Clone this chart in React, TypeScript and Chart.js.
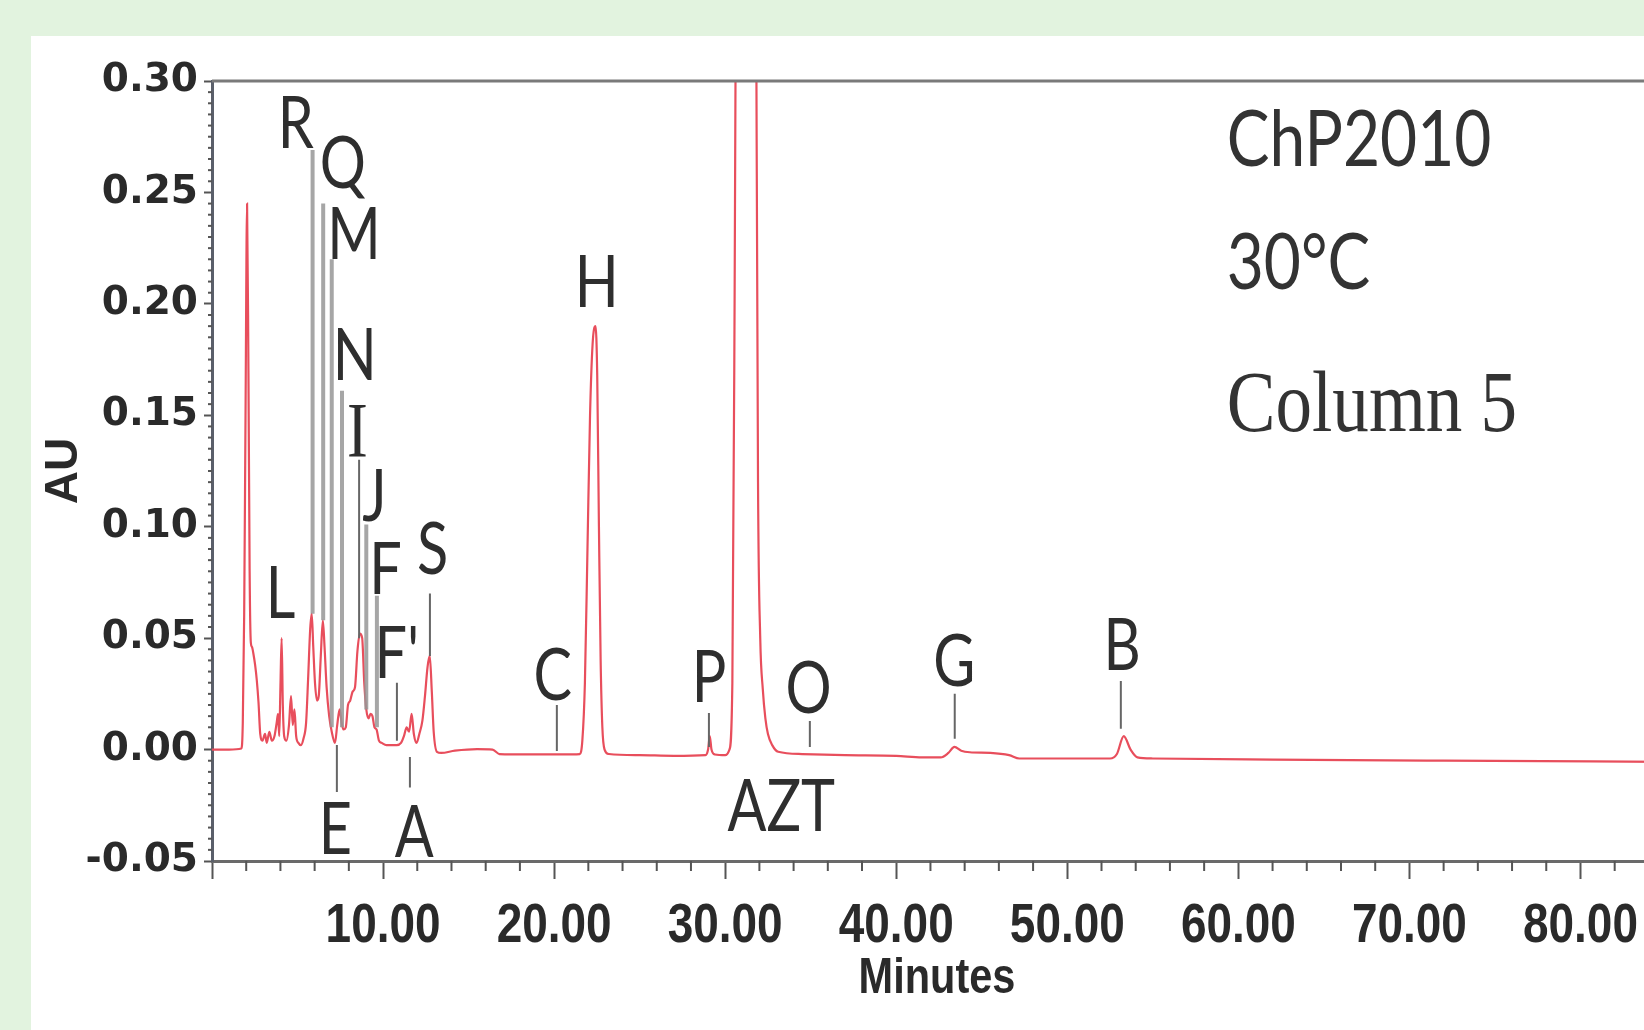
import React, { useEffect, useRef } from 'react';
import { Chart, registerables } from 'chart.js';

Chart.register(...registerables);

// ---- chromatogram trace (retention time in minutes, absorbance in AU) ----
const timeMin = [
  0, 1.0, 1.72, 1.8, 1.88, 1.96, 2.05, 2.13, 2.2, 2.27, 2.34, 2.42, 2.52, 2.62, 2.72, 2.82,
  2.95, 3.1, 3.2, 3.35, 3.5, 3.65, 3.78, 3.86, 3.93, 4.0, 4.07, 4.14, 4.22, 4.35,
  4.5, 4.62, 4.72, 4.82, 4.92, 5.05, 5.2, 5.35, 5.5, 5.62, 5.74, 5.83, 5.92, 6.02, 6.14,
  6.24, 6.36, 6.48, 6.58, 6.7, 6.85, 7.0, 7.19, 7.32, 7.46, 7.58, 7.68, 7.82, 7.95, 8.08,
  8.22, 8.36, 8.5, 8.64, 8.78, 8.9, 9.02, 9.15, 9.27, 9.38, 9.5, 9.62, 9.76, 9.92,
  10.2, 10.5, 10.8, 11.05, 11.22, 11.38, 11.52, 11.67, 11.8, 11.96, 12.12, 12.3, 12.45,
  12.6, 12.73, 12.85, 12.96, 13.15, 13.4, 14.2, 15.5, 16.4, 16.8, 18.5, 20.5, 21.5,
  21.65, 21.8, 21.95, 22.1, 22.25, 22.42, 22.52, 22.62, 22.72, 22.82, 22.95, 23.2, 25,
  27, 28.85, 29.0, 29.1, 29.2, 29.4, 30.0, 30.25, 30.42, 30.55, 30.7, 31.0, 31.3, 31.6,
  31.8, 31.92, 32.05, 32.2, 32.35, 32.5, 32.75, 33.1, 34.5, 37, 40, 41.5, 42.6, 43.05,
  43.4, 43.8, 44.3, 45.5, 46.6, 47.2, 50, 52.5, 52.9, 53.3, 53.7, 54.1, 55, 62, 72, 85,
];
const absorbance = [
  0, 0, 0.0005, 0.012, 0.06, 0.15, 0.245, 0.17, 0.08, 0.048, 0.046, 0.043, 0.038, 0.031, 0.021, 0.007,
  0.004, 0.007, 0.003, 0.008, 0.004, 0.006, 0.012, 0.016, 0.006, 0.028, 0.05, 0.02, 0.006, 0.004,
  0.011, 0.024, 0.011, 0.018, 0.006, 0.003, 0.002, 0.005, 0.012, 0.032, 0.054, 0.061, 0.046, 0.03, 0.022,
  0.024, 0.042, 0.058, 0.046, 0.028, 0.015, 0.008, 0.003, 0.011, 0.018, 0.012, 0.009, 0.01, 0.02, 0.022,
  0.026, 0.028, 0.044, 0.052, 0.05, 0.03, 0.018, 0.014, 0.016, 0.015, 0.01, 0.009, 0.004, 0.003,
  0.002, 0.002, 0.002, 0.003, 0.006, 0.01, 0.008, 0.016, 0.007, 0.003, 0.007, 0.013, 0.024,
  0.037, 0.042, 0.026, 0.008, -0.001, -0.0015, -0.0005, 0.0002, 0, -0.002, -0.0022, -0.0022, -0.002,
  0.004, 0.03, 0.09, 0.15, 0.182, 0.19, 0.168, 0.1, 0.04, 0.01, 0.0, -0.002, -0.0025,
  -0.0028, -0.0025, 0.0, 0.006, 0.0, -0.0022, -0.0025, 0.0, 0.03, 0.2, 0.48, 0.82, 0.95, 0.76,
  0.36, 0.12, 0.05, 0.027, 0.014, 0.007, 0.002, -0.001, -0.002, -0.0025, -0.0028, -0.0035, -0.0035, -0.0015,
  0.0012, -0.0005, -0.0012, -0.0015, -0.0025, -0.004, -0.004, -0.004, -0.002, 0.006, 0.0, -0.0035, -0.004, -0.0045, -0.005, -0.0055,
];

// ---- peak labels (time, AU of label centre) ----
const peakNames = ['R', 'Q', 'M', 'N', 'I', 'J', 'F', 'S', 'L', "F'", 'E', 'A', 'C', 'H', 'P', 'O', 'AZT', 'G', 'B'];
const peakLabelTime = [4.9, 7.65, 8.3, 8.35, 8.5, 9.5, 10.15, 12.9, 4.0, 10.8, 7.22, 11.82, 19.92, 22.49, 29.05, 34.88, 33.28, 43.4, 53.21];
const peakLabelAU = [0.2815, 0.2635, 0.2315, 0.1775, 0.1435, 0.1142, 0.0815, 0.0905, 0.0705, 0.0437, -0.0353, -0.0367, 0.0338, 0.2103, 0.0329, 0.0282, -0.025, 0.04, 0.0475];

// ---- peak marker ticks (time, upper AU, lower AU) ----
const markerNames = ['R', 'Q', 'M', 'N', 'I', 'J', 'F', "F'", 'S', 'E', 'A', 'C', 'P', 'O', 'G', 'B'];
const markerTime = [5.88, 6.5, 7.0, 7.6, 8.6, 9.02, 9.64, 10.81, 12.74, 7.3, 11.57, 20.16, 29.05, 34.95, 43.42, 53.13];
const markerTop = [0.269, 0.245, 0.22, 0.161, 0.13, 0.101, 0.069, 0.03, 0.07, 0.002, -0.0033, 0.02, 0.0164, 0.0128, 0.025, 0.0308];
const markerBottom = [0.061, 0.058, 0.01, 0.01, 0.05, 0.018, 0.01, 0.004, 0.042, -0.019, -0.017, -0.0006, 0.0012, 0.0012, 0.0048, 0.0093];

// ---- info text block ----
const infoLines = ['ChP2010', '30°C', 'Column 5'];
const infoTime = 59.32;
const infoAU = [0.2742, 0.219, 0.1555];

const xTickStep = 10;
const yTickStep = 0.05;
const xTitle = 'Minutes';
const yTitle = 'AU';

const thickMarkers = new Set(['R', 'Q', 'M', 'N', 'J', 'F']);

export default function App() {
  const ref = useRef<HTMLCanvasElement | null>(null);

  useEffect(() => {
    const canvas = ref.current;
    if (!canvas) return;

    const trace = timeMin.map((t, i) => ({ x: t, y: absorbance[i] }));

    const markerSets = markerNames.map((name, i) => ({
      label: 'marker ' + name,
      data: [
        { x: markerTime[i], y: markerTop[i] },
        { x: markerTime[i], y: markerBottom[i] },
      ],
      borderColor: thickMarkers.has(name) ? 'rgba(150,150,150,0.85)' : '#666666',
      borderWidth: thickMarkers.has(name) ? 4 : 2,
      pointRadius: 0,
      order: 1,
      clip: false as any,
    }));

    const fmtX = (v: number) => (v === 0 ? '' : v.toFixed(2));

    const overlay = {
      id: 'overlay',
      afterDatasetsDraw(chart: any) {
        const { ctx, chartArea, scales } = chart;
        const x = scales.x;
        const y = scales.y;
        ctx.save();
        // top frame line
        ctx.strokeStyle = '#7a7a7a';
        ctx.lineWidth = 3;
        ctx.beginPath();
        ctx.moveTo(chartArea.left, chartArea.top);
        ctx.lineTo(chartArea.right + 20, chartArea.top);
        ctx.stroke();
        // minor ticks
        ctx.strokeStyle = '#555';
        ctx.lineWidth = 2;
        for (let t = 2; t < 85; t += 2) {
          if (t % 10 === 0) continue;
          const px = x.getPixelForValue(t);
          ctx.beginPath();
          ctx.moveTo(px, chartArea.bottom);
          ctx.lineTo(px, chartArea.bottom + 10);
          ctx.stroke();
        }
        for (let k = 0; k <= 70; k++) {
          if (k % 10 === 0) continue;
          const py = y.getPixelForValue(-0.05 + k * 0.005);
          ctx.beginPath();
          ctx.moveTo(chartArea.left - 4, py);
          ctx.lineTo(chartArea.left, py);
          ctx.stroke();
        }
        // x tick labels (condensed, from the axis' own ticks)
        ctx.fillStyle = '#2a2a2a';
        ctx.font = 'bold 56px "Liberation Sans"';
        ctx.textAlign = 'center';
        ctx.textBaseline = 'alphabetic';
        x.ticks.forEach((tk: any) => {
          const label = fmtX(tk.value);
          if (!label) return;
          const px = x.getPixelForValue(tk.value);
          ctx.save();
          ctx.translate(px, chartArea.bottom + 81);
          ctx.scale(0.82, 1);
          ctx.fillText(label, 0, 0);
          ctx.restore();
        });
        // x title
        ctx.font = 'bold 50px "Liberation Sans"';
        ctx.save();
        ctx.translate((chartArea.left + chartArea.right) / 2 - 2, chartArea.bottom + 132);
        ctx.scale(0.83, 1);
        ctx.fillText(xTitle, 0, 0);
        ctx.restore();
        // peak labels
        ctx.fillStyle = '#2e2e2e';
        peakNames.forEach((name, i) => {
          const px = x.getPixelForValue(peakLabelTime[i]);
          const py = y.getPixelForValue(peakLabelAU[i]);
          const serif = name === 'I';
          const size = serif ? 78 : 72;
          ctx.font = serif ? `${size}px "Liberation Serif"` : `${size}px Lato`;
          const cap = serif ? size * 0.662 : size * 0.7165;
          ctx.save();
          ctx.translate(px, py + cap / 2);
          ctx.scale(0.8, 1);
          ctx.textAlign = 'center';
          ctx.textBaseline = 'alphabetic';
          ctx.fillText(name, 0, 0);
          ctx.restore();
        });
        // info block
        infoLines.forEach((line, i) => {
          const px = x.getPixelForValue(infoTime);
          const py = y.getPixelForValue(infoAU[i]);
          const serif = i === 2;
          const size = serif ? 86 : 78;
          ctx.font = serif ? `${size}px "Liberation Serif"` : `${size}px Lato`;
          const cap = serif ? size * 0.662 : size * 0.7165;
          ctx.save();
          ctx.translate(px, py + cap / 2);
          ctx.scale(serif ? 0.85 : 0.82, 1);
          ctx.textAlign = 'left';
          ctx.textBaseline = 'alphabetic';
          ctx.fillStyle = '#333';
          ctx.fillText(line, 0, 0);
          ctx.restore();
        });
        ctx.restore();
      },
    };

    const chart = new Chart(canvas, {
      type: 'line',
      data: {
        datasets: [
          {
            label: 'AU',
            data: trace,
            borderColor: 'rgb(232, 78, 92)',
            borderWidth: 2.2,
            pointRadius: 0,
            cubicInterpolationMode: 'monotone',
            tension: 0.3,
            order: 2,
          } as any,
          ...markerSets,
        ],
      },
      options: {
        animation: false,
        responsive: false,
        devicePixelRatio: 1,
        layout: { padding: { top: 45, right: 15, left: 0, bottom: 0 } },
        plugins: {
          legend: { display: false },
          tooltip: { enabled: false },
        },
        scales: {
          x: {
            type: 'linear',
            min: 0,
            max: 85,
            border: { display: true, color: '#6a6a6a', width: 3 },
            grid: {
              drawOnChartArea: false,
              drawTicks: true,
              tickLength: 18,
              tickColor: '#555',
              tickWidth: 2,
            },
            ticks: {
              stepSize: xTickStep,
              includeBounds: false,
              autoSkip: false,
              maxRotation: 0,
              padding: 12,
              color: 'rgba(0,0,0,0)',
              font: { family: '"Liberation Sans", sans-serif', size: 56, weight: 'bold' },
              callback: (v: any) => fmtX(Number(v)),
            },
            title: { display: false, text: xTitle },
            afterFit: (s: any) => {
              s.height = 169;
            },
          },
          y: {
            type: 'linear',
            min: -0.05,
            max: 0.3,
            border: { display: true, color: '#5a5f6a', width: 3 },
            grid: {
              drawOnChartArea: false,
              drawTicks: true,
              tickLength: 8,
              tickColor: '#555',
              tickWidth: 2,
            },
            ticks: {
              stepSize: yTickStep,
              autoSkip: false,
              padding: 6,
              color: '#2a2a2a',
              font: { family: '"DejaVu Sans", sans-serif', size: 39, weight: 'bold' },
              callback: (v: any) => {
                const n = Math.abs(Number(v)) < 1e-9 ? 0 : Number(v);
                return n.toFixed(2);
              },
            },
            title: {
              display: true,
              text: yTitle,
              color: '#2a2a2a',
              font: { family: '"Liberation Sans", sans-serif', size: 46, weight: 'bold' },
              padding: { top: 6, bottom: 0 },
            },
            afterFit: (s: any) => {
              s.width = 181;
            },
          },
        },
      } as any,
      plugins: [overlay],
    });

    return () => chart.destroy();
  }, []);

  return (
    <div
      style={{
        position: 'absolute',
        left: 0,
        top: 0,
        width: 1644,
        height: 1030,
        background: '#e2f3df',
        overflow: 'hidden',
      }}
    >
      <div
        style={{
          position: 'absolute',
          left: 31,
          top: 36,
          width: 1613,
          height: 994,
          background: '#ffffff',
          overflow: 'hidden',
        }}
      >
        <canvas
          ref={ref}
          width={1650}
          height={994}
          style={{ position: 'absolute', left: 0, top: 0, width: 1650, height: 994 }}
        />
      </div>
    </div>
  );
}
